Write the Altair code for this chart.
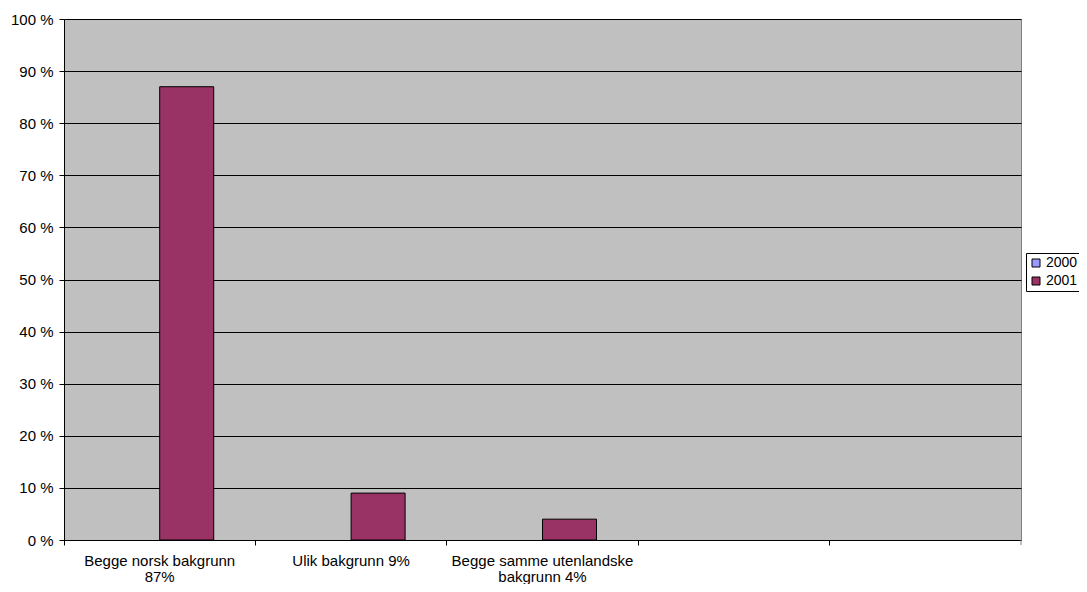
import altair as alt
import pandas as pd

categories = ["Begge norsk bakgrunn|87%", "Ulik bakgrunn 9%", "Begge samme utenlandske|bakgrunn 4%", " ", "  "]
series = ["2000", "2001"]
values_2001 = [87, 9, 4]
colors = ["#9999FF", "#993366"]

df = pd.DataFrame({
    "cat": categories[:3],
    "serie": ["2001"] * 3,
    "value": values_2001,
})

W, H = 957, 521
FONT = "Liberation Sans"
FS = 15

xscale = alt.Scale(domain=categories, paddingInner=0, paddingOuter=0)

bars = alt.Chart(df).mark_bar(stroke="black", strokeWidth=1).encode(
    x=alt.X("cat:N", scale=xscale, sort=categories, title=None,
            axis=alt.Axis(orient="bottom", labelExpr="split(datum.value, '|')", labelAngle=0, ticks=False,
                          domain=True, domainColor="black", labelPadding=13, labelLineHeight=16,
                          labelLimit=300)),
    xOffset=alt.XOffset("serie:N", scale=alt.Scale(domain=series, paddingOuter=0.772, paddingInner=0)),
    y=alt.Y("value:Q", scale=alt.Scale(domain=[0, 100]), title=None,
            axis=alt.Axis(values=list(range(0, 101, 10)), labelExpr="datum.value + ' %'",
                          grid=True, gridColor="black", gridOpacity=1, domainColor="black",
                          tickColor="black", tickSize=5, labelPadding=6)),
    color=alt.Color("serie:N", scale=alt.Scale(domain=series, range=colors),
                    legend=alt.Legend(title=None, orient="none", legendX=962, legendY=234,
                                      symbolType="square", symbolSize=64, symbolStrokeColor="black",
                                      symbolStrokeWidth=1, strokeColor="black", padding=3,
                                      rowPadding=4, labelOffset=3, labelFontSize=14)),
)

ticks = alt.Chart(pd.DataFrame({"cat": categories})).mark_rule(opacity=0).encode(
    x=alt.X("cat:N", scale=xscale, sort=categories, title=None,
            axis=alt.Axis(orient="bottom", bandPosition=0, labels=False, domain=False,
                          tickColor="black", tickSize=5)),
)

last_tick = alt.Chart(pd.DataFrame({"a": [0]})).mark_rule(color="#808080").encode(
    x=alt.value(W), y=alt.value(H), y2=alt.value(H + 5)
)

chart = alt.layer(bars, ticks, last_tick).resolve_axis(x="independent").properties(
    width=W, height=H,
    autosize=alt.AutoSizeParams(type="none"),
    padding={"left": 56, "top": 11, "right": 58, "bottom": 44},
).configure_view(
    fill="#C0C0C0", stroke="#808080", strokeWidth=1
).configure_axis(
    labelFont=FONT, labelFontSize=FS, labelColor="black"
).configure_legend(
    labelFont=FONT, labelColor="black"
)

chart.save("out.html", embed_options={"renderer": "svg", "actions": False})
